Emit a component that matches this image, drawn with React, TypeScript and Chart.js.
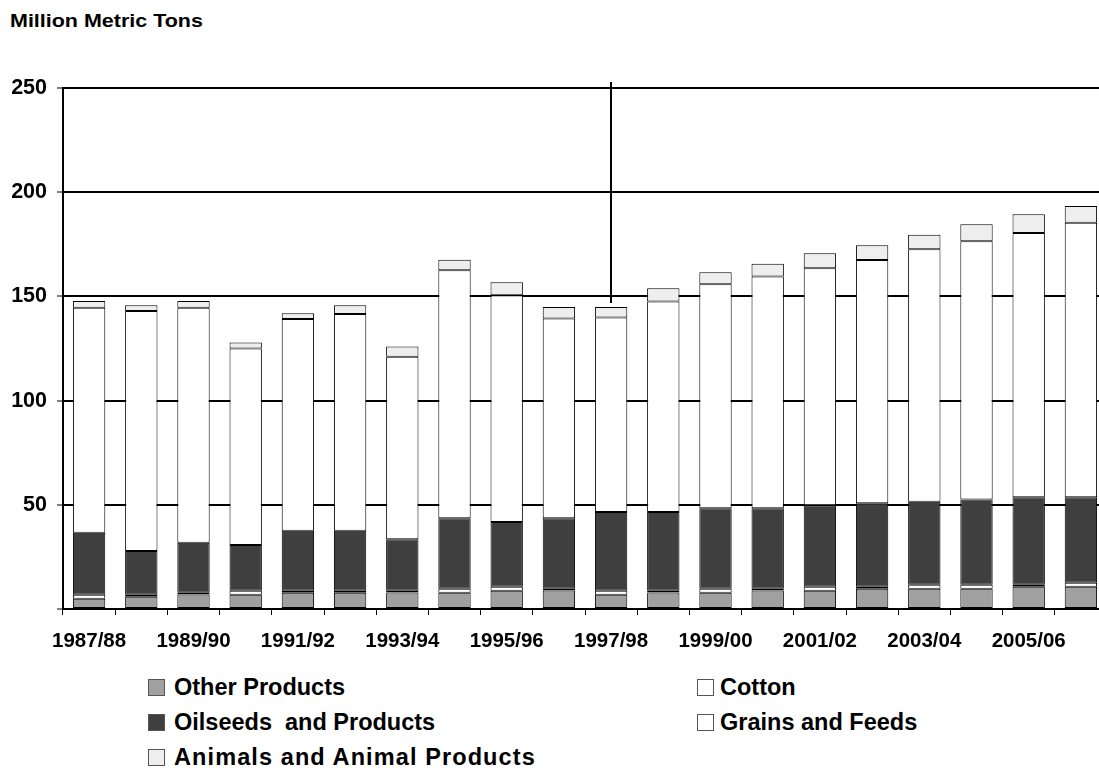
import React, { useEffect, useRef } from 'react';
import { Chart, registerables } from 'chart.js';

Chart.register(...registerables);

const categories = [
  '1987/88', '1988/89', '1989/90', '1990/91', '1991/92', '1992/93', '1993/94',
  '1994/95', '1995/96', '1996/97', '1997/98', '1998/99', '1999/00', '2000/01',
  '2001/02', '2002/03', '2003/04', '2004/05', '2005/06', '2006/07',
];

const otherProducts = [4.9, 5.9, 7.0, 6.8, 7.8, 7.8, 7.9, 7.8, 8.7, 8.9, 6.8, 7.9, 7.8, 8.9, 8.7, 9.7, 9.7, 9.7, 10.7, 10.7];
const cotton = [1.9, 0.9, 0.8, 1.9, 0.9, 0.9, 0.8, 1.9, 2.0, 0.8, 1.9, 0.8, 1.9, 0.8, 2.0, 1.0, 1.9, 1.9, 0.9, 1.9];
const oilseeds = [29.8, 21.0, 24.0, 22.0, 28.9, 28.9, 24.8, 33.9, 31.0, 33.9, 37.8, 37.8, 38.7, 38.7, 39.1, 40.0, 39.9, 40.9, 42.0, 41.0];
const grainsFeeds = [107.9, 115.2, 112.7, 94.3, 101.5, 103.9, 87.5, 118.9, 108.9, 95.8, 93.4, 101.1, 107.4, 111.2, 113.7, 116.8, 121.1, 124.0, 126.8, 131.8];
const animals = [3.3, 2.7, 3.3, 2.9, 2.8, 4.2, 5.0, 5.1, 6.2, 5.5, 5.0, 6.3, 5.8, 6.1, 7.2, 7.0, 7.0, 8.1, 9.0, 8.0];

const yMin = 0;
const yMax = 250;
const yStep = 50;
const markerCategory = '1997/98';

const seriesNames = {
  other: 'Other Products',
  cotton: 'Cotton',
  oilseeds: 'Oilseeds  and Products',
  grains: 'Grains and Feeds',
  animals: 'Animals and Animal Products',
};

const COLORS = {
  other: '#a0a0a0',
  cotton: '#ffffff',
  oilseeds: '#3f3f3f',
  grains: '#ffffff',
  animals: '#eeeeee',
};

const FONT = "'Liberation Sans', Arial, Helvetica, sans-serif";

const markerPlugin = {
  id: 'markerLine',
  afterDatasetsDraw(chart: any) {
    const idx = categories.indexOf(markerCategory);
    if (idx < 0) return;
    const xs = chart.scales.x;
    const ys = chart.scales.y;
    let total = 0;
    chart.data.datasets.forEach((ds: any) => {
      total += ds.data[idx];
    });
    const x = Math.round(xs.getPixelForValue(idx));
    const ctx = chart.ctx;
    ctx.save();
    ctx.strokeStyle = '#000';
    ctx.lineWidth = 2;
    ctx.beginPath();
    ctx.moveTo(x, chart.chartArea.top - 6);
    ctx.lineTo(x, ys.getPixelForValue(total) - 4);
    ctx.stroke();
    ctx.restore();
  },
};

function LegendItem({ color, label, gap, spacing }: { color: string; label: string; gap: number; spacing?: number }) {
  return (
    <div style={{ display: 'flex', alignItems: 'center', height: 35 }}>
      <span
        style={{
          display: 'inline-block',
          width: 15,
          height: 15,
          background: color,
          border: '1px solid #555',
          marginRight: gap,
          flex: 'none',
        }}
      />
      <span style={{ whiteSpace: 'pre', letterSpacing: spacing ? `${spacing}px` : undefined }}>{label}</span>
    </div>
  );
}

export default function App() {
  const canvasRef = useRef<HTMLCanvasElement | null>(null);

  useEffect(() => {
    const canvas = canvasRef.current;
    if (!canvas) return;
    const mk = (label: string, data: number[], color: string) => ({
      label,
      data,
      backgroundColor: color,
      borderColor: '#000',
      borderWidth: 1,
      borderSkipped: false,
      barPercentage: 0.62,
      categoryPercentage: 1,
    });
    const chart = new Chart(canvas, {
      type: 'bar',
      data: {
        labels: categories,
        datasets: [
          mk(seriesNames.other, otherProducts, COLORS.other),
          mk(seriesNames.cotton, cotton, COLORS.cotton),
          mk(seriesNames.oilseeds, oilseeds, COLORS.oilseeds),
          mk(seriesNames.grains, grainsFeeds, COLORS.grains),
          mk(seriesNames.animals, animals, COLORS.animals),
        ] as any,
      },
      options: {
        responsive: false,
        animation: false,
        devicePixelRatio: 1,
        layout: { padding: { top: 88, left: 0, right: 1, bottom: 0 } },
        plugins: {
          legend: { display: false },
          tooltip: { enabled: false },
          title: { display: false },
        },
        scales: {
          x: {
            stacked: true,
            offset: true,
            afterFit: (scale: any) => {
              scale.height = 61;
            },
            grid: {
              offset: true,
              drawOnChartArea: false,
              drawTicks: true,
              tickLength: 6,
              tickColor: '#000',
              tickWidth: 1,
            },
            border: { display: true, color: '#000', width: 2 },
            ticks: {
              autoSkip: false,
              maxRotation: 0,
              minRotation: 0,
              padding: 14,
              color: '#000',
              font: { family: FONT, size: 20.5, weight: 'bold' },
              callback: (_v: any, i: number) => (i % 2 === 0 ? categories[i] : ''),
            },
          },
          y: {
            stacked: true,
            min: yMin,
            max: yMax,
            afterFit: (scale: any) => {
              scale.width = 63;
            },
            grid: {
              color: '#000',
              lineWidth: 2,
              drawTicks: true,
              tickLength: 6,
              tickColor: '#000',
              tickWidth: 1,
            },
            border: { display: true, color: '#000', width: 2 },
            ticks: {
              stepSize: yStep,
              padding: 10,
              color: '#000',
              font: { family: FONT, size: 21.5, weight: 'bold' },
              callback: (v: any) => (Number(v) === 0 ? '' : String(v)),
            },
          },
        },
      },
      plugins: [markerPlugin],
    } as any);
    return () => chart.destroy();
  }, []);

  return (
    <div
      style={{
        position: 'absolute',
        left: 0,
        top: 0,
        width: 1099,
        height: 773,
        overflow: 'hidden',
        background: '#fff',
        fontFamily: FONT,
        fontWeight: 'bold',
        color: '#000',
      }}
    >
      <div
        style={{
          position: 'absolute',
          left: 10,
          top: 10,
          fontSize: 19,
          whiteSpace: 'nowrap',
          transform: 'scaleX(1.13)',
          transformOrigin: 'left center',
        }}
      >
        Million Metric Tons
      </div>
      <canvas
        ref={canvasRef}
        width={1108}
        height={670}
        style={{ position: 'absolute', left: 0, top: 0, display: 'block' }}
      />
      <div
        style={{
          position: 'absolute',
          left: 148,
          top: 670,
          display: 'grid',
          gridTemplateColumns: '549px 300px',
          fontSize: 23.5,
        }}
      >
        <LegendItem color={COLORS.other} label={seriesNames.other} gap={9} />
        <LegendItem color={COLORS.cotton} label={seriesNames.cotton} gap={6} />
        <LegendItem color={COLORS.oilseeds} label={seriesNames.oilseeds} gap={9} />
        <LegendItem color={COLORS.grains} label={seriesNames.grains} gap={6} />
        <LegendItem color={COLORS.animals} label={seriesNames.animals} gap={9} spacing={1.1} />
      </div>
    </div>
  );
}
